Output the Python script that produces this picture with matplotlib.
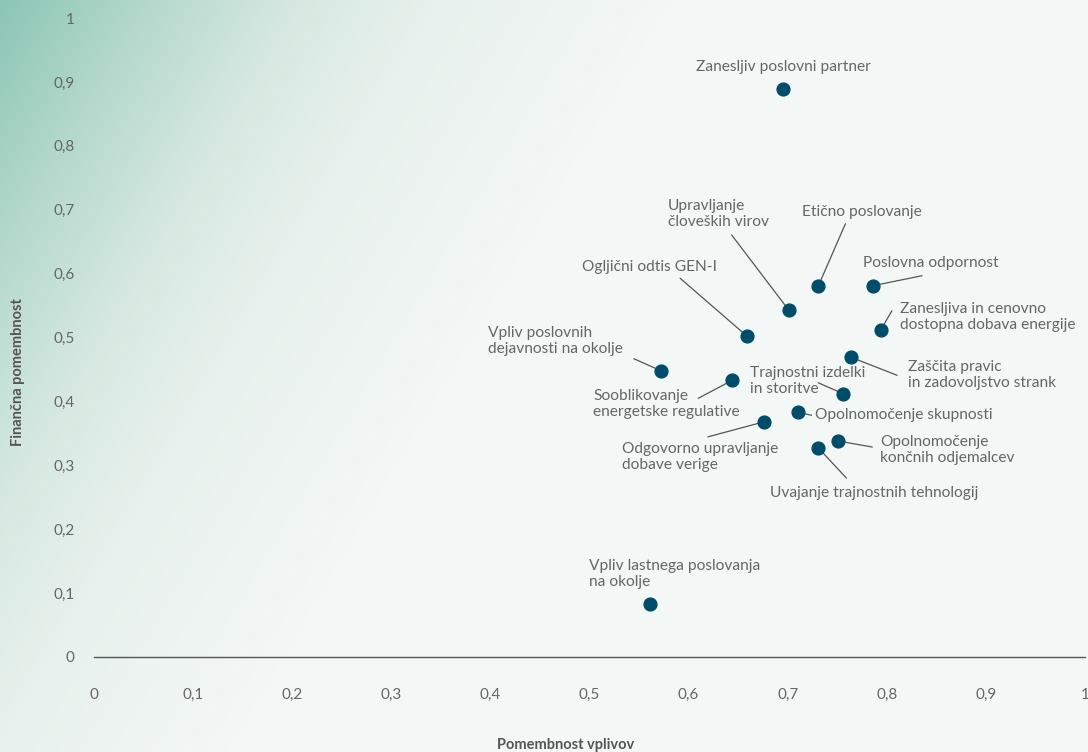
import numpy as np
import matplotlib
matplotlib.use("Agg")
import matplotlib.pyplot as plt
from matplotlib.colors import LinearSegmentedColormap

plt.rcParams['font.family'] = ['Lato', 'DejaVu Sans']

# ---- data ----
labels = [
    "Zanesljiv poslovni partner",
    "Etično poslovanje",
    "Poslovna odpornost",
    "Upravljanje\nčloveških virov",
    "Ogljični odtis GEN-I",
    "Zanesljiva in cenovno\ndostopna dobava energije",
    "Vpliv poslovnih\ndejavnosti na okolje",
    "Zaščita pravic\nin zadovoljstvo strank",
    "Sooblikovanje\nenergetske regulative",
    "Trajnostni izdelki\nin storitve",
    "Opolnomočenje skupnosti",
    "Odgovorno upravljanje\ndobave verige",
    "Opolnomočenje\nkončnih odjemalcev",
    "Uvajanje trajnostnih tehnologij",
    "Vpliv lastnega poslovanja\nna okolje",
]
impact = [0.695, 0.731, 0.786, 0.701, 0.659, 0.794, 0.572, 0.764, 0.644, 0.756,
          0.710, 0.676, 0.751, 0.731, 0.561]
financial = [0.889, 0.581, 0.581, 0.543, 0.502, 0.512, 0.448, 0.469, 0.433, 0.412,
             0.383, 0.368, 0.338, 0.327, 0.083]
tick_vals = [0, 0.1, 0.2, 0.3, 0.4, 0.5, 0.6, 0.7, 0.8, 0.9, 1]
tick_labels = ["0", "0,1", "0,2", "0,3", "0,4", "0,5", "0,6", "0,7", "0,8", "0,9", "1"]

# ---- layout (pixel offsets from point: text anchor, ha, line start or None) ----
layout = [
    ((1, -22), "center", None),
    ((43, -74), "center", (27, -62)),
    ((-10, -23), "left", (49, -10)),
    ((-121, -96), "left", (-57, -75)),
    ((-165, -69), "left", (-67, -58)),
    ((19, -13), "left", (11, -19)),
    ((-173, -30), "left", (-27, -12)),
    ((57, 18), "left", (46, 18)),
    ((-139, 24), "left", (-34, 18)),
    ((-93, -13), "left", (-25, -11)),
    ((17, 3), "left", (14, 3)),
    ((-142, 35), "left", (-56, 15)),
    ((42, 9), "left", (34, 6)),
    ((56, 45), "center", (28, 30)),
    ((-61, -30), "left", None),
]

W, H, DPI = 1088, 752, 100
fig = plt.figure(figsize=(W / DPI, H / DPI), dpi=DPI)

# background gradient
bg = fig.add_axes([0, 0, 1, 1], zorder=-10)
yy, xx = np.mgrid[0:H, 0:W]
d = xx / 560.0 + yy / 950.0
t = np.clip(d / 1.2, 0, 1)
cmap = LinearSegmentedColormap.from_list(
    "g", [(0, "#8cc6b4"), (0.25, "#b9dbcf"), (0.45, "#d7e9e2"),
          (0.65, "#e8f1ed"), (1.0, "#f3f7f6")], N=256)
bg.imshow(t, cmap=cmap, aspect="auto", extent=[0, W, H, 0], vmin=0, vmax=1)
bg.set_axis_off()

L, R, T, B = 94, 1085, 18, 657
ax = fig.add_axes([L / W, 1 - B / H, (R - L) / W, (B - T) / H])
ax.patch.set_alpha(0)
ax.set_xlim(0, 1)
ax.set_ylim(0, 1)
for s in ["top", "right", "left"]:
    ax.spines[s].set_visible(False)
ax.spines["bottom"].set_color("#555555")
ax.spines["bottom"].set_linewidth(1.0)
ax.set_xticks(tick_vals)
ax.set_xticklabels(tick_labels)
ax.set_yticks(tick_vals)
ax.set_yticklabels(tick_labels)
ax.tick_params(axis="x", length=0, pad=22, labelsize=11, labelcolor="#666666")
ax.tick_params(axis="y", length=0, pad=14, labelsize=11, labelcolor="#666666")

ax.scatter(impact, financial, s=85, color="#004d6b", zorder=5, clip_on=False)

k = 0.72  # px -> points at 100 dpi
for lab, x, y, (toff, ha, loff) in zip(labels, impact, financial, layout):
    ax.annotate(lab, xy=(x, y), xytext=(toff[0] * k, -toff[1] * k),
                textcoords="offset points", ha=ha, va="center",
                fontsize=11.2, color="#666666", linespacing=1.2)
    if loff is not None:
        ax.annotate("", xy=(x, y), xytext=(loff[0] * k, -loff[1] * k),
                    textcoords="offset points",
                    arrowprops=dict(arrowstyle="-", color="#555555", lw=0.9,
                                    shrinkA=0, shrinkB=4))

fig.text(566 / W, 1 - 745 / H, "Pomembnost vplivov", ha="center", va="center",
         fontsize=10.5, fontweight="bold", color="#555555")
fig.text(18 / W, 1 - 372 / H, "Finančna pomembnost", ha="center", va="center",
         rotation=90, fontsize=10.5, fontweight="bold", color="#555555")

fig.savefig("out.png", dpi=DPI)
